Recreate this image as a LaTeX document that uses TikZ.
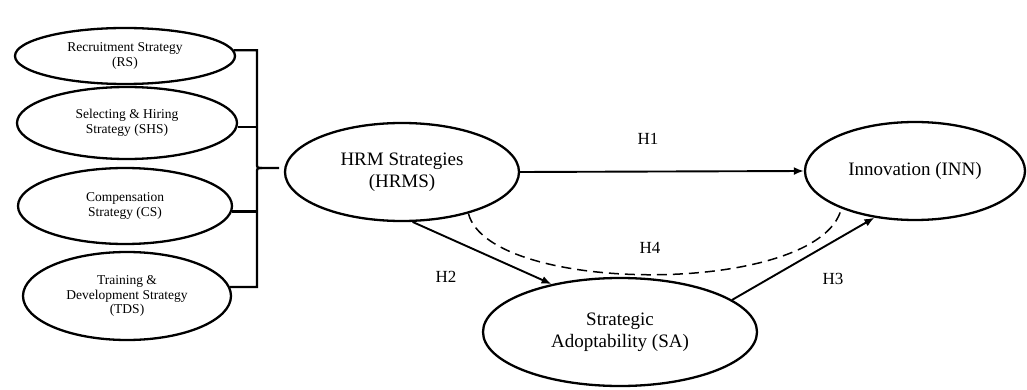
\documentclass[tikz,border=0pt]{standalone}
\usepackage{fontspec}
\setmainfont{Liberation Serif}
\usetikzlibrary{shapes.geometric,arrows.meta}
\begin{document}
\begin{tikzpicture}[x=1pt,y=-1pt,
  oval/.style={draw,ellipse,line width=2.3pt,inner sep=0pt,align=center},
  small/.style={font=\fontsize{13.5}{14.5}\selectfont},
  big/.style={font=\fontsize{19}{22}\selectfont},
  link/.style={line width=1.9pt,-{Latex[length=10pt,width=8pt]}},
  brace/.style={line width=2.3pt},
  hlab/.style={font=\fontsize{17}{20}\selectfont}]
\useasboundingbox (0,0) rectangle (1027,390);
\node[oval,small,minimum width=220pt,minimum height=56pt] (rs) at (125,56) {Recruitment Strategy\\(RS)};
\node[oval,small,minimum width=220pt,minimum height=72pt] (shs) at (127,123) {Selecting \& Hiring\\Strategy (SHS)};
\node[oval,small,minimum width=214pt,minimum height=76pt] (cs) at (125,206) {Compensation\\Strategy (CS)};
\node[oval,small,minimum width=208pt,minimum height=88pt] (tds) at (127,296) {Training \&\\Development Strategy\\(TDS)};
\node[oval,big,minimum width=234pt,minimum height=98pt] (hrms) at (402,172) {HRM Strategies\\(HRMS)};
\node[oval,big,minimum width=220pt,minimum height=98pt] (inn) at (915,171) {Innovation (INN)};
\node[oval,big,minimum width=274pt,minimum height=108pt] (sa) at (620,332) {Strategic\\Adoptability (SA)};
% bracket
\coordinate (bx) at (257,0);
\coordinate (tip) at (279,168);
\draw[brace] (rs.3) -- (rs.3 -| bx) -- (257,163) .. controls (257,168) .. (262,168) -- (tip);
\draw[brace] (tds.5) -- (tds.5 -| bx) -- (257,173) .. controls (257,168) .. (262,168);
\draw[brace] (shs.-2) -- (shs.-2 -| bx);
\draw[brace] (cs.-3) -- (cs.-3 -| bx);
% arrows
\draw[link] (hrms.east) -- (inn.west);
\draw[link] (hrms.-78) -- (sa.145);
\draw[link] (sa.16) -- (inn.229);
\draw[line width=1.5pt,dash pattern=on 10pt off 6pt] (hrms.-32) .. controls (490,296) and (820,296) .. (inn.207);
\node[hlab] (h1) at (648,139) {H1};
\node[hlab] (h2) at (446,277) {H2};
\node[hlab] (h3) at (833,279) {H3};
\node[hlab] (h4) at (650,248) {H4};
\end{tikzpicture}
\end{document}
